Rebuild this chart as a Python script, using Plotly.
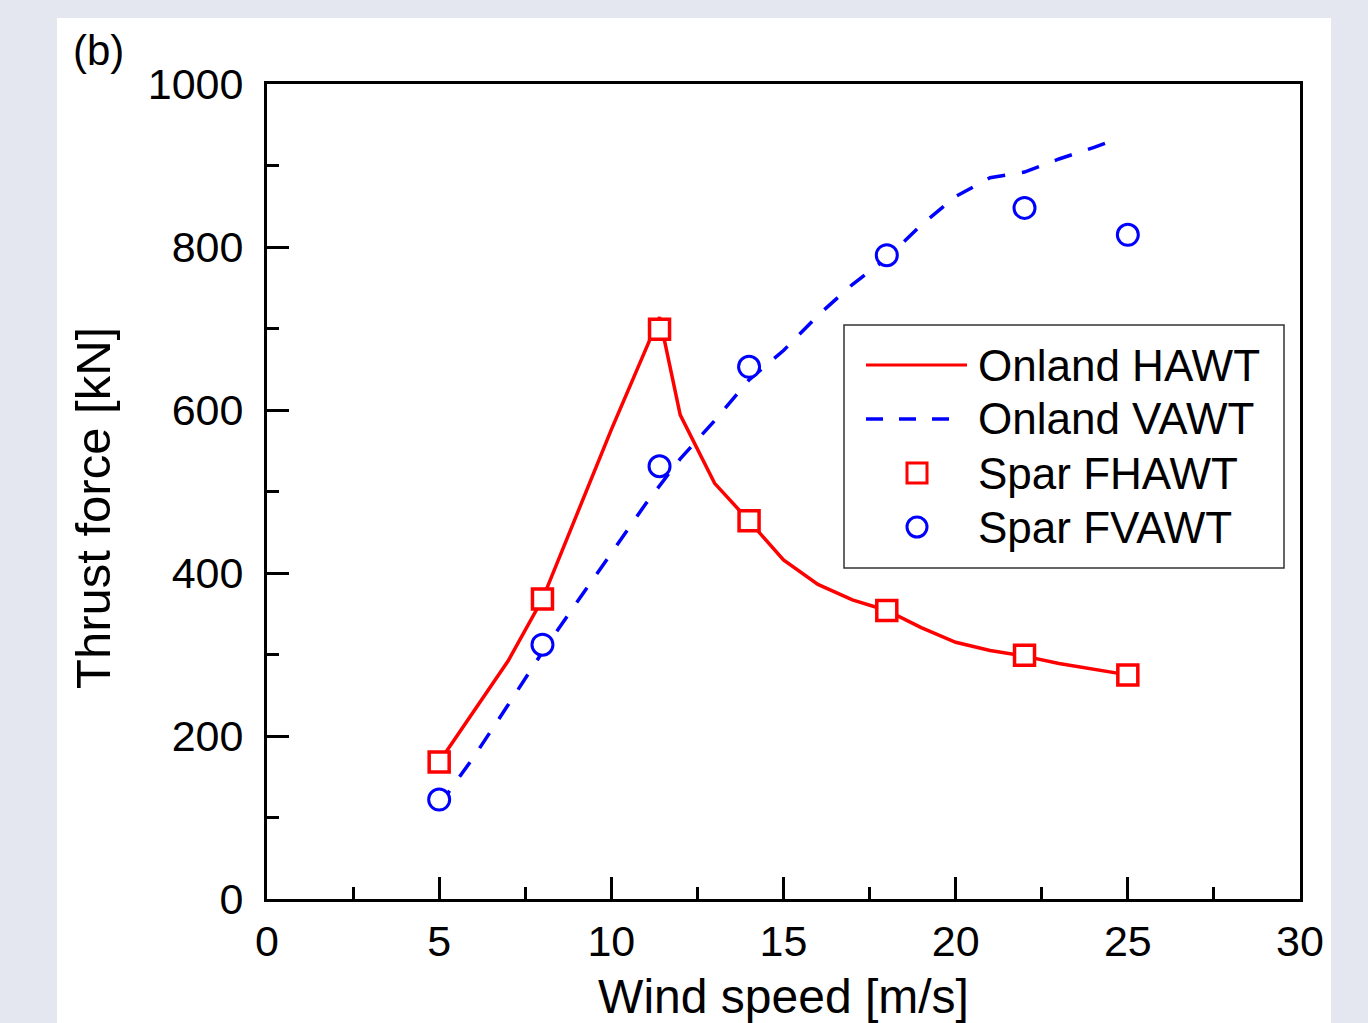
import plotly.graph_objects as go

# ---------------- data ----------------
hawt_x = [5, 6, 7, 8, 9, 10, 11.4, 12, 13, 14, 15, 16, 17, 18, 19, 20, 21, 22, 23, 24, 25]
hawt_y = [168, 230, 292, 368, 472, 576, 714, 594, 510, 464, 416, 386, 367, 354, 333, 315, 305, 298, 289, 282, 275]

vawt_x = [5, 6, 7, 8, 9, 10, 11, 12, 13, 14, 15, 16, 17, 18, 19, 20, 21, 22, 23, 24, 24.4]
vawt_y = [115, 174, 238, 303, 364, 425, 485, 540, 587, 637, 673, 716, 754, 786, 827, 862, 885, 892, 908, 922, 928]

spar_x = [5, 8, 11.4, 14, 18, 22, 25]
fhawt_y = [168, 368, 699, 464, 354, 299, 275]
fvawt_y = [122, 312, 531, 653, 790, 848, 815]

series_names = ["Onland HAWT", "Onland VAWT", "Spar FHAWT", "Spar FVAWT"]
x_ticks = [0, 5, 10, 15, 20, 25, 30]
y_ticks = [0, 200, 400, 600, 800, 1000]

# ---------------- layout helpers ----------------
W, H = 1368, 1023
L, R, T, B = 267, 1300, 84, 899  # plot-area pixel edges
FONT = "Liberation Sans, Arial, Helvetica, sans-serif"
RED, BLUE = "#ff0000", "#0000ff"


def px(x):
    return (x - L) / (R - L)


def py(y):
    return (B - y) / (B - T)


fig = go.Figure()

fig.add_trace(go.Scatter(x=hawt_x, y=hawt_y, mode="lines", name=series_names[0],
                         line=dict(color=RED, width=3.5)))
fig.add_trace(go.Scatter(x=vawt_x, y=vawt_y, mode="lines", name=series_names[1],
                         line=dict(color=BLUE, width=3.5, dash="18px,17px")))
fig.add_trace(go.Scatter(x=spar_x, y=fhawt_y, mode="markers", name=series_names[2],
                         marker=dict(symbol="square", size=20, color="white",
                                     line=dict(color=RED, width=3.5))))
fig.add_trace(go.Scatter(x=spar_x, y=fvawt_y, mode="markers", name=series_names[3],
                         marker=dict(symbol="circle", size=21, color="white",
                                     line=dict(color=BLUE, width=3))))

axis_common = dict(
    showline=True, linewidth=3, linecolor="black", mirror=True,
    ticks="inside", tickwidth=3, tickcolor="black", ticklen=22,
    showgrid=False, zeroline=False, automargin=False,
    tickfont=dict(size=43, family=FONT, color="black"),
)

fig.update_xaxes(
    range=[0, 30], tickvals=x_ticks, ticktext=[str(v) for v in x_ticks],
    minor=dict(ticks="inside", ticklen=12, tickwidth=3, tickcolor="black", dtick=2.5, tick0=0, showgrid=False),
    title=dict(text="Wind speed [m/s]", font=dict(size=48, family=FONT, color="black"), standoff=35),
    ticklabelstandoff=2,
    **axis_common,
)
fig.update_yaxes(
    range=[0, 1000], tickvals=y_ticks, ticktext=[str(v) for v in y_ticks],
    minor=dict(ticks="inside", ticklen=12, tickwidth=3, tickcolor="black", dtick=100, tick0=0, showgrid=False),
    ticklabelstandoff=12,
    **axis_common,
)

shapes = [
    # white panel behind the chart
    dict(type="rect", xref="paper", yref="paper", x0=px(57), x1=px(1331), y0=py(1040), y1=py(18),
         fillcolor="white", line=dict(width=0), layer="below"),
    # legend box
    dict(type="rect", xref="paper", yref="paper", x0=px(844), x1=px(1284), y0=py(568), y1=py(325),
         fillcolor="white", line=dict(color="#333333", width=1.5), layer="above"),
    dict(type="line", xref="paper", yref="paper", x0=px(866), x1=px(967), y0=py(365), y1=py(365),
         line=dict(color=RED, width=3)),
    dict(type="line", xref="paper", yref="paper", x0=px(866), x1=px(950), y0=py(419), y1=py(419),
         line=dict(color=BLUE, width=3.5, dash="17px,16px")),
    dict(type="rect", xref="paper", yref="paper", x0=px(907), x1=px(927), y0=py(483), y1=py(463),
         fillcolor="white", line=dict(color=RED, width=3)),
    dict(type="circle", xref="paper", yref="paper", x0=px(907), x1=px(927), y0=py(537), y1=py(517),
         fillcolor="white", line=dict(color=BLUE, width=3)),
]

annotations = [
    dict(text="(b)", xref="paper", yref="paper", x=px(71), y=py(50), xanchor="left", yanchor="middle",
         showarrow=False, font=dict(size=42, family=FONT, color="black")),
    # y-axis title (sits slightly below the axis centre in the reference)
    dict(text="Thrust force [kN]", xref="paper", yref="paper", x=px(93), y=py(508),
         xanchor="center", yanchor="middle", textangle=-90, showarrow=False,
         font=dict(size=49, family=FONT, color="black")),
]
for name, yc in zip(series_names, [365, 419, 473, 527]):
    annotations.append(dict(text=name, xref="paper", yref="paper", x=px(976), y=py(yc),
                            xanchor="left", yanchor="middle", showarrow=False,
                            font=dict(size=44, family=FONT, color="black")))

fig.update_layout(
    width=W, height=H,
    margin=dict(l=L, r=W - R, t=T, b=H - B, autoexpand=False),
    paper_bgcolor="#e4e7ef", plot_bgcolor="white",
    showlegend=False,
    font=dict(family=FONT, color="black"),
    shapes=shapes, annotations=annotations,
)

fig.write_html("out.html")
